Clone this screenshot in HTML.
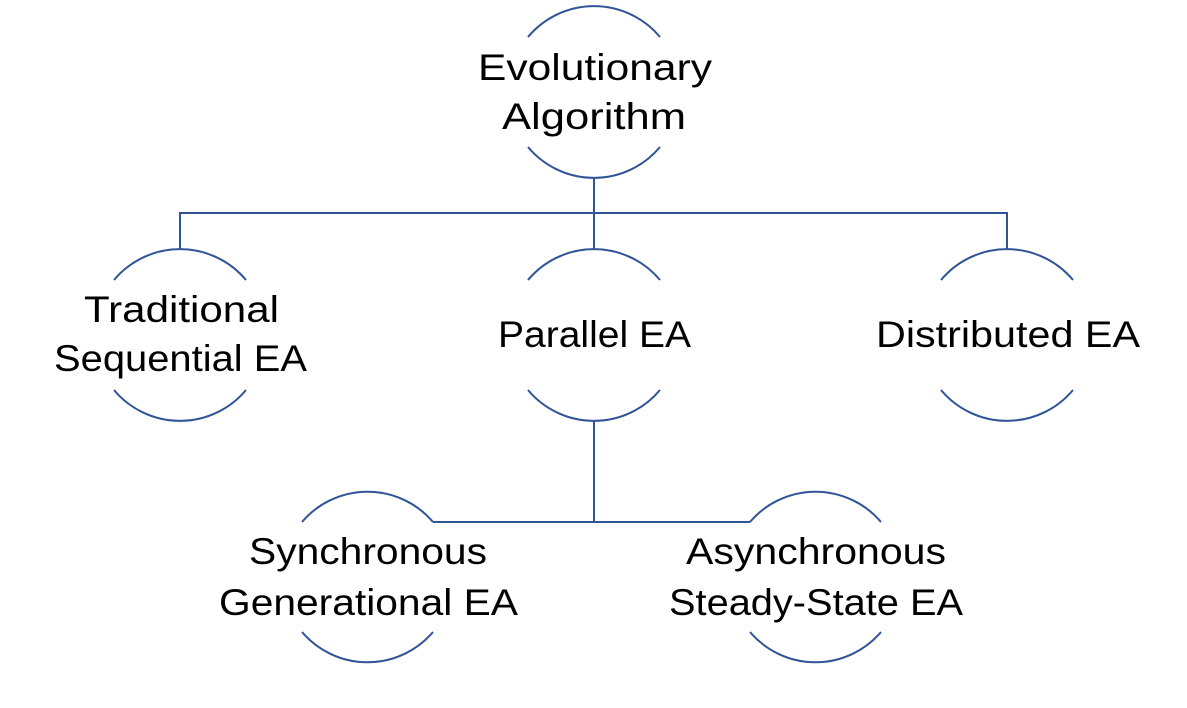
<!DOCTYPE html>
<html><head><meta charset="utf-8"><style>
html,body{margin:0;padding:0;background:#fff;}
svg{display:block;}
text{font-family:"Liberation Sans",sans-serif;font-size:37px;fill:#000;}
</style></head><body>
<svg width="1187" height="708" viewBox="0 0 1187 708" xmlns="http://www.w3.org/2000/svg">
<g fill="none" stroke="#2F5597" stroke-width="2">
<path d="M594 178V213M180 249V213H1007V249M594 213V249"/>
<path d="M594 421V522M433 522H750"/>
<path d="M528 37A86 86 0 0 1 660 37M528 147A86 86 0 0 0 660 147"/>
<path d="M114 280A86 86 0 0 1 246 280M114 390A86 86 0 0 0 246 390"/>
<path d="M528 280A86 86 0 0 1 660 280M528 390A86 86 0 0 0 660 390"/>
<path d="M941 280A86 86 0 0 1 1073 280M941 390A86 86 0 0 0 1073 390"/>
<path d="M302 522A86 86 0 0 1 433 522M302 632A86 86 0 0 0 433 632"/>
<path d="M750 522A86 86 0 0 1 881 522M750 632A86 86 0 0 0 881 632"/>
</g>
<text x="478" y="80" textLength="234" lengthAdjust="spacingAndGlyphs">Evolutionary</text>
<text x="502" y="129" textLength="184" lengthAdjust="spacingAndGlyphs">Algorithm</text>
<text x="84" y="322" textLength="195" lengthAdjust="spacingAndGlyphs">Traditional</text>
<text x="54" y="371" textLength="253" lengthAdjust="spacingAndGlyphs">Sequential EA</text>
<text x="498" y="347" textLength="193" lengthAdjust="spacingAndGlyphs">Parallel EA</text>
<text x="876" y="347" textLength="264" lengthAdjust="spacingAndGlyphs">Distributed EA</text>
<text x="249" y="564" textLength="238" lengthAdjust="spacingAndGlyphs">Synchronous</text>
<text x="219" y="615" textLength="299" lengthAdjust="spacingAndGlyphs">Generational EA</text>
<text x="686" y="564" textLength="260" lengthAdjust="spacingAndGlyphs">Asynchronous</text>
<text x="669" y="615" textLength="294" lengthAdjust="spacingAndGlyphs">Steady-State EA</text>
</svg>
</body></html>
